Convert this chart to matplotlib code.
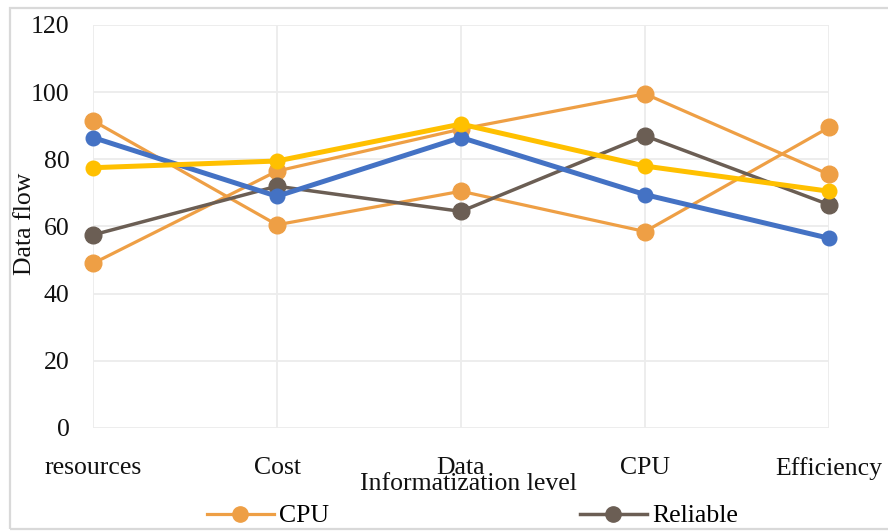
import matplotlib
matplotlib.use("Agg")
import matplotlib.pyplot as plt
from matplotlib.lines import Line2D
from matplotlib.patches import Rectangle

categories = ["resources", "Cost", "Data", "CPU", "Efficiency"]
cpu_a = [91.5, 60.5, 70.5, 58.5, 89.5]
cpu_b = [49, 76.5, 89, 99.5, 75.5]
reliable = [57.5, 72, 64.5, 87, 66.5]
blue_s = [86.5, 69, 86.5, 69.5, 56.5]
yellow_s = [77.5, 79.5, 90.5, 78, 70.5]
yticks = [0, 20, 40, 60, 80, 100, 120]

ORANGE = "#EE9F45"
BROWN = "#6B5E54"
BLUE = "#4472C4"
YELLOW = "#FFC000"
FS = 18.5

plt.rcParams['font.family'] = ['Liberation Serif', 'DejaVu Serif']

fig = plt.figure(figsize=(8.88, 5.31), dpi=100)
ax = fig.add_axes([93/888, 1-428/531, 736/888, 403/531])

x = list(range(len(categories)))
ax.plot(x, cpu_a, color=ORANGE, lw=2.3, marker='o', ms=12, clip_on=False, zorder=3)
ax.plot(x, cpu_b, color=ORANGE, lw=2.3, marker='o', ms=12, clip_on=False, zorder=3)
ax.plot(x, reliable, color=BROWN, lw=2.5, marker='o', ms=12, clip_on=False, zorder=4)
ax.plot(x, blue_s, color=BLUE, lw=3.6, marker='o', ms=10.5, clip_on=False, zorder=5)
ax.plot(x, yellow_s, color=YELLOW, lw=3.6, marker='o', ms=10.5, clip_on=False, zorder=6)

ax.set_xlim(0, 4)
ax.set_ylim(0, 120)
ax.set_yticks(yticks)
ax.set_xticks(x)
ax.set_xticklabels(categories)
ax.tick_params(axis='both', length=0, labelsize=FS, colors='#111111')
ax.tick_params(axis='y', pad=17)
ax.tick_params(axis='x', pad=21)
for s in ax.spines.values():
    s.set_visible(False)
ax.grid(True, color='#ececec', lw=1.3)
ax.set_axisbelow(True)

ax.set_xlabel("Informatization level", fontsize=FS, color='#111111')
ax.xaxis.set_label_coords((468-93)/736, (428-484)/403)
ax.xaxis.label.set_va('center')
ax.set_ylabel("Data flow", fontsize=FS, color='#111111')
ax.yaxis.set_label_coords((25-93)/736, (428-224)/403)
ax.yaxis.label.set_va('center')

h1 = Line2D([], [], color=ORANGE, lw=2.3, marker='o', ms=11)
h2 = Line2D([], [], color=BROWN, lw=2.5, marker='o', ms=11)
fig.legend(handles=[h1], labels=["CPU"], loc='center left', bbox_to_anchor=(207/888, 1-516/531),
           frameon=False, borderpad=0, borderaxespad=0, handlelength=2.6, handletextpad=0.2,
           fontsize=FS)
fig.legend(handles=[h2], labels=["Reliable"], loc='center left', bbox_to_anchor=(580/888, 1-516/531),
           frameon=False, borderpad=0, borderaxespad=0, handlelength=2.6, handletextpad=0.2,
           fontsize=FS)

fig.patches.append(Rectangle((10/888, 2/531), 1.0, 1-8/531-2/531, transform=fig.transFigure,
                             fill=False, edgecolor='#d9d9d9', lw=1.6, clip_on=False))

fig.savefig("out.png", dpi=100)
